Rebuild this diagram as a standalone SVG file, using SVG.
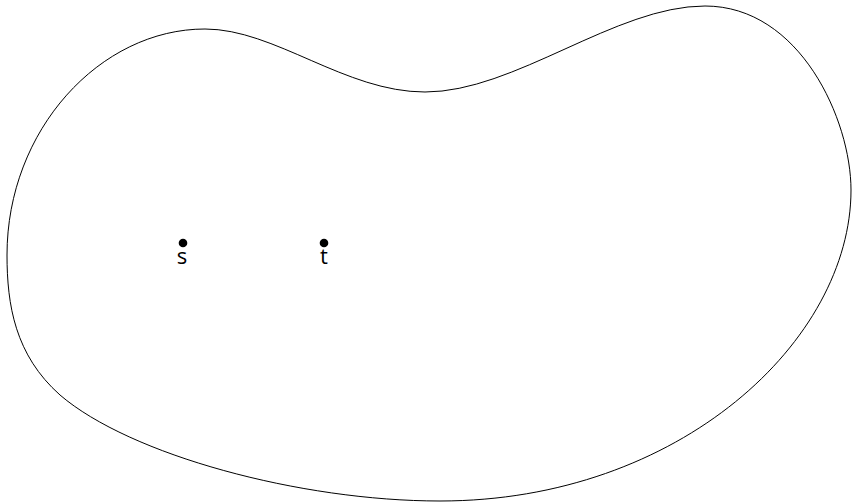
<svg xmlns="http://www.w3.org/2000/svg" width="853" height="504" viewBox="0 0 853 504">
<style>
.blob{fill:none;stroke:#000;stroke-width:1}
.pt{fill:#000}
.lbl{font-family:"Open Sans","DejaVu Sans",sans-serif;font-size:22px;fill:#000;text-anchor:middle}
</style>
<rect width="853" height="504" fill="#fff"/>
<g id="region">
<path class="blob" d="M 205,29 C 275,29 345,92 425,92 C 515,92 615,6 705,6 C 800,6 851,120 851,190 C 851,340 680,501 440,501 C 300,501 130,455 60,395 C 15,355 7,305 7,255 C 7,130 100,29 205,29 Z"/>
</g>
<g id="s">
<circle class="pt" cx="183" cy="243" r="4.3"/>
<text class="lbl" x="182" y="264">s</text>
</g>
<g id="t">
<circle class="pt" cx="324" cy="243" r="4.3"/>
<text class="lbl" x="324" y="264">t</text>
</g>
<g id="connectors"></g>
</svg>
